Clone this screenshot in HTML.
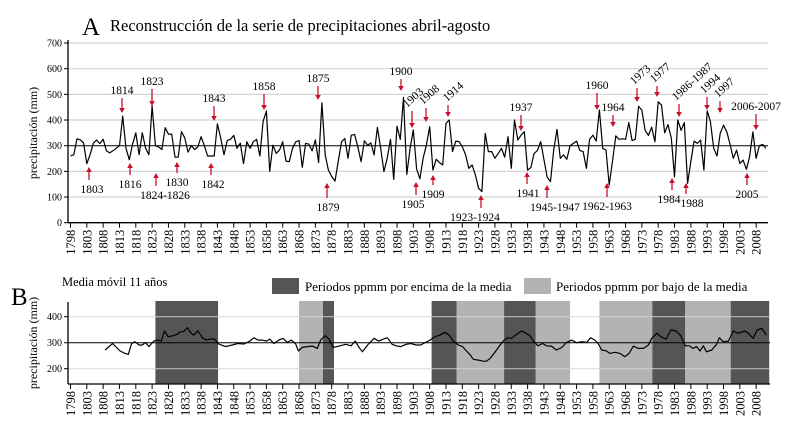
<!DOCTYPE html>
<html><head><meta charset="utf-8">
<style>
html,body{margin:0;padding:0;background:#fff;}
svg{display:block;font-family:"Liberation Serif",serif;}
</style></head>
<body>
<svg id="chart" width="800" height="435" viewBox="0 0 800 435" xmlns="http://www.w3.org/2000/svg">
<text x="82" y="35" font-size="25">A</text>
<text x="110" y="31" font-size="16.5">Reconstrucción de la serie de precipitaciones abril-agosto</text>
<text x="11" y="305" font-size="25">B</text>
<text x="62" y="286" font-size="12.5">Media móvil 11 años</text>
<rect x="272" y="278" width="27" height="16" fill="#555"/>
<text x="305" y="291" font-size="13">Periodos ppmm por encima de la media</text>
<rect x="524" y="278" width="27" height="16" fill="#b3b3b3"/>
<text x="556" y="291" font-size="13">Periodos ppmm por bajo de la media</text>
<text transform="translate(37,133) rotate(-90)" text-anchor="middle" font-size="12">precipitación (mm)</text>
<text transform="translate(37,343) rotate(-90)" text-anchor="middle" font-size="12">precipitación (mm)</text>
<g id="gA"></g><g id="gB"></g><g id="gAnn"></g>
</svg>
<script>
const years = [];
for (let y = 1798; y <= 2011; y++) years.push(y);
const precip = [260,265,327,323,310,230,265,310,322,308,325,280,272,280,290,300,415,290,245,305,350,265,350,290,265,455,300,295,285,370,345,345,255,255,355,330,275,300,285,295,335,300,260,260,260,385,330,265,320,325,340,290,310,230,315,290,315,325,260,395,435,200,302,270,283,315,240,238,290,315,320,216,309,306,280,322,234,467,264,205,180,162,238,315,328,251,341,344,296,238,319,302,311,264,371,290,199,251,325,169,376,325,488,188,290,361,210,171,251,303,374,205,247,234,225,387,400,277,318,316,296,264,212,225,186,134,121,348,277,277,251,270,290,255,335,212,400,322,341,355,205,215,270,281,316,247,177,160,283,364,251,264,247,299,309,318,281,277,212,325,341,318,439,290,283,147,240,338,325,327,325,390,320,325,454,438,360,340,372,315,471,458,350,382,330,179,400,360,390,153,240,318,309,322,205,436,394,290,260,348,380,354,306,251,283,231,244,208,257,354,251,300,305,290];
const maYears = [1808.6,1810.9,1813.2,1814.7,1815.7,1816.7,1817.7,1819,1820,1821,1822,1823.5,1824.6,1825.8,1826.8,1827.9,1829.4,1830.6,1831.6,1832.6,1833.8,1834.8,1835.8,1837,1838.4,1839.6,1840.8,1842.1,1843.4,1845.4,1847.6,1849.2,1851.2,1852.9,1854.2,1855.5,1856.7,1858,1859,1860.3,1861.8,1863.1,1864.4,1865.6,1866.9,1867.8,1869,1870.5,1872.1,1873.6,1874.6,1876,1877.2,1878.4,1880.3,1882.3,1883.9,1885.2,1886.2,1887.4,1889,1891,1892.4,1893.8,1895.1,1896.5,1897.7,1899.2,1900.8,1902.3,1903.8,1905.2,1906.6,1908.1,1909.6,1911.1,1912.7,1914,1915.2,1916.8,1918.1,1919.3,1920.3,1921.4,1922.9,1924.4,1925.4,1926.7,1928,1929.2,1930.5,1931.8,1933.1,1934.6,1936.2,1937.5,1938.7,1939.9,1941.2,1942.6,1943.8,1945.3,1946.8,1948.4,1949.9,1951.5,1953,1954.5,1956.1,1957.3,1958.6,1959.6,1960.7,1962,1963.2,1964.8,1966.3,1967.8,1969.1,1970.4,1971.9,1973.5,1975,1976,1977.6,1978.8,1980.4,1981.9,1983.5,1984.9,1986.3,1987.6,1988.6,1989.8,1990.8,1991.8,1992.8,1994.4,1995.9,1996.7,1997.9,1999.5,2001,2002.5,2004.6,2005.6,2007.1,2008.3,2009.7,2011.2];
const maValues = [272,297,268,259,255,297,304,291,291,301,285,306,310,306,345,323,327,332,342,342,358,338,329,346,319,310,314,314,295,285,291,297,295,306,319,310,310,306,314,297,310,317,301,310,297,268,282,285,287,278,310,327,314,282,287,294,288,306,285,265,291,317,306,314,319,294,288,285,294,297,291,291,300,310,323,329,340,329,306,291,285,268,255,236,233,229,229,242,263,285,306,319,317,332,345,336,327,304,288,297,288,287,272,281,301,310,300,304,301,319,310,297,272,269,259,263,259,246,259,287,278,278,291,317,336,323,314,349,345,327,288,288,278,285,268,288,265,272,294,319,304,306,345,336,345,336,317,349,355,329];
const bandStart = [1824,1868,1875.3,1908.6,1916.3,1930.8,1940.5,1960,1976.2,1986.3,2000.2];
const bandEnd = [1843.2,1875.3,1878.7,1916.3,1930.8,1940.5,1951,1976.2,1986.3,2000.2,2012];
const bandType = ['above','below','above','above','below','above','below','below','above','below','above'];
const yTicksA = [0,100,200,300,400,500,600,700];
const yTicksB = [200,300,400];
const meanValue = 300;
// annotation layout (label, x, text y, arrow start y, arrow tip y)
const downLabels = ['1814','1823','1843','1858','1875','1900','1937','1960','1964','2006-2007'];
const downX = [122,152,214,264,318,401,521,597,613,756];
const downTextY = [94,85,102,90,82,75,111,89,111,110];
const downTipY = [113,106,121,110,100,91,131,110,127,130];
const upLabels = ['1803','1816','1824-1826','1830','1842','1879','1905','1909','1923-1924','1941','1945-1947','1962-1963','1984','1988','2005'];
const upX = [89,130,156,177,211,327,416,433,481,527,547,607,672,686,747];
const upTextX = [92,130,165,177,213,328,413,433,475,528,555,607,669,692,747];
const upTextY = [193,188,199,186,188,211,208,198,221,197,211,210,203,207,198];
const upTipY = [167,163,173,162,163,183,182,175,195,172,185,183,178,183,173];
const rotLabels = ['1903','1908','1914','1973','1977','1986-1987','1994','1997'];
const rotX = [412,426,448,637,657,679,707,720];
const rotTextX = [407,423,447,634,654,676,704,718];
const rotTextY = [108,105,102,85,83,101,94,98];
const rotTipY = [128,122,117,102,97,117,110,113];

const NS = 'http://www.w3.org/2000/svg';
function xS(yr){ return 70.5 + (yr - 1798) * 3.265; }
function yA(v){ return 222.7 - v * 0.2567; }
function yB(v){ return 342.7 - (v - 300) * 0.26; }
function mk(tag, attrs, parent){
  const e = document.createElementNS(NS, tag);
  for (const k in attrs) e.setAttribute(k, attrs[k]);
  parent.appendChild(e); return e;
}
const gA = document.getElementById('gA'), gB = document.getElementById('gB'), gAnn = document.getElementById('gAnn');

yTicksA.forEach(v => {
  const y = yA(v);
  if (v > 0) {
    const l = mk('line', {x1:68, x2:768, y1:y, y2:y, stroke: v===meanValue ? '#000' : '#d4d4d4', 'stroke-width': v===meanValue ? 1 : 1.2}, gA);
    
    
  }
  const t = mk('text', {x:62, y:y+3.5, 'text-anchor':'end', 'font-size':10}, gA);
  t.textContent = v;
  
  
  const tk = mk('line', {x1:64, x2:68, y1:y, y2:y, stroke:'#000'}, gA);
  
  
});
let ax = mk('line', {x1:68, x2:68, y1:40, y2:223, stroke:'#000', 'stroke-width':1.3}, gA);


ax = mk('line', {x1:68, x2:768, y1:222.7, y2:222.7, stroke:'#000', 'stroke-width':1.3}, gA);



bandStart.forEach((s, i) => {
  const r = mk('rect', {x:xS(s), y:301, width:xS(bandEnd[i]) - xS(s), height:83, fill: bandType[i]==='above' ? '#555' : '#b3b3b3'}, gB);
  
  
});
yTicksB.forEach(v => {
  const y = yB(v);
  const l = mk('line', {x1:68, x2:770, y1:y, y2:y, stroke: v===meanValue ? '#000' : '#d4d4d4', 'stroke-width': v===meanValue ? 1 : 1.2, 'stroke-opacity': v===meanValue ? 1 : 0.8}, gB);
  
  
  const t = mk('text', {x:62, y:y+3.5, 'text-anchor':'end', 'font-size':10}, gB);
  t.textContent = v;
  
  
  const tk = mk('line', {x1:64, x2:68, y1:y, y2:y, stroke:'#000'}, gB);
  
  
});
ax = mk('line', {x1:68, x2:68, y1:302, y2:384, stroke:'#000', 'stroke-width':1.3}, gB);


ax = mk('line', {x1:68, x2:770, y1:384, y2:384, stroke:'#000', 'stroke-width':1.3}, gB);



for (let yr = 1798; yr <= 2008; yr += 5) {
  const x = xS(yr);
  [[222.7,'a'],[384,'b']].forEach(([base, p]) => {
    const tk = mk('line', {x1:x, x2:x, y1:base, y2:base+5, stroke:'#000'}, p==='a'?gA:gB);
    
    
    const t = mk('text', {transform:`translate(${x+4.5},${base+7}) rotate(-90)`, 'text-anchor':'end', 'font-size':12.5}, p==='a'?gA:gB);
    t.textContent = yr;
    
    
  });
}

const ptsA = precip.map((v, i) => xS(years[i]).toFixed(1) + ',' + yA(v).toFixed(1)).join(' ');
const la = mk('polyline', {points: ptsA, fill:'none', stroke:'#000', 'stroke-width':1.2, 'stroke-linejoin':'round'}, gA);



const ptsB = maValues.map((v, i) => xS(maYears[i]).toFixed(1) + ',' + yB(v).toFixed(1)).join(' ');
const lb = mk('polyline', {points: ptsB, fill:'none', stroke:'#000', 'stroke-width':1.2, 'stroke-linejoin':'round'}, gB);



function arrow(x, y1, y2){
  const dir = y2 > y1 ? 1 : -1;
  const l = mk('line', {x1:x, x2:x, y1:y1, y2:y2 - dir*4, stroke:'#c8102e', 'stroke-width':1.3}, gAnn);
  
  
  const h = mk('polygon', {points:`${x-2.8},${y2-dir*5} ${x+2.8},${y2-dir*5} ${x},${y2}`, fill:'#c8102e'}, gAnn);
  
  
}
downLabels.forEach((lab, i) => {
  arrow(downX[i], downTextY[i] + 4, downTipY[i]);
  const t = mk('text', {x:downX[i], y:downTextY[i], 'text-anchor':'middle', 'font-size':11.5}, gAnn);
  t.textContent = lab;
  
  
});
upLabels.forEach((lab, i) => {
  arrow(upX[i], upTextY[i] - 13, upTipY[i]);
  const t = mk('text', {x:upTextX[i], y:upTextY[i], 'text-anchor':'middle', 'font-size':11.5}, gAnn);
  t.textContent = lab;
  
  
});
rotLabels.forEach((lab, i) => {
  arrow(rotX[i], rotTextY[i] + 3, rotTipY[i]);
  const t = mk('text', {transform:`translate(${rotTextX[i]},${rotTextY[i]}) rotate(-42)`, 'font-size':11.5}, gAnn);
  t.textContent = lab;
  
  
});
</script>
</body></html>
